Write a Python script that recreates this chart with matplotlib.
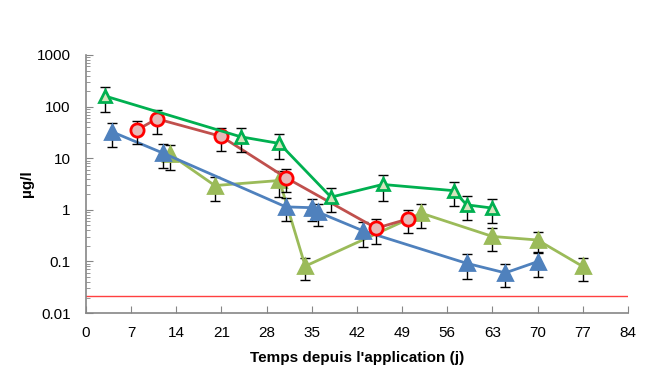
import numpy as np
import matplotlib
matplotlib.use('Agg')
import matplotlib.pyplot as plt
from matplotlib.ticker import FixedLocator, LogLocator, NullFormatter

plt.rcParams['font.family'] = ['Liberation Sans Narrow', 'Liberation Sans', 'DejaVu Sans']

# --- data (days, µg/l, +/- error) ---
green_days = [3, 24, 30, 38, 46, 57, 59, 63]
green_vals = [160, 26, 19.3, 1.76, 3.1, 2.35, 1.25, 1.08]
green_err = [80, 13, 9.7, 0.85, 1.6, 1.17, 0.62, 0.52]

red_days = [8, 11, 21, 31, 45, 50]
red_vals = [35.6, 58, 26.4, 4.2, 0.44, 0.67]
red_err = [17, 28, 12.6, 2.0, 0.22, 0.32]

blue_days = [4, 12, 31, 35, 36, 43, 59, 65, 70]
blue_vals = [32.7, 12.5, 1.14, 1.1, 0.9, 0.39, 0.092, 0.06, 0.099]
blue_err = [16, 6, 0.53, 0.5, 0.42, 0.2, 0.046, 0.028, 0.049]

olive_days = [13, 20, 30, 34, 52, 63, 70, 77]
olive_vals = [12, 2.95, 3.7, 0.081, 0.86, 0.305, 0.26, 0.08]
olive_err = [6, 1.45, 1.9, 0.037, 0.42, 0.145, 0.11, 0.038]

limit_value = 0.021
x_ticks = [0, 7, 14, 21, 28, 35, 42, 49, 56, 63, 70, 77, 84]
y_ticks = [0.01, 0.1, 1, 10, 100, 1000]
y_labels = ['0.01', '0.1', '1', '10', '100', '1000']

fig = plt.figure(figsize=(6.5, 3.74), dpi=100)
ax = fig.add_axes([0.132, 0.163, 0.834, 0.690])


def draw(days, vals, err, color, marker, ms, mfc, mec, z):
    ax.errorbar(days, vals, yerr=err, fmt='none', ecolor='black', elinewidth=1,
                capsize=3.5, capthick=1, zorder=z)
    ax.plot(days, vals, color=color, lw=2, marker=marker, ms=ms, mfc=mfc, mec=mec,
            mew=2, zorder=z + 0.5)


draw(olive_days, olive_vals, olive_err, '#9BBB59', '^', 10, '#9BBB59', '#9BBB59', 2)
draw(blue_days, blue_vals, blue_err, '#4F81BD', '^', 10, '#4F81BD', '#4F81BD', 3)
draw(red_days, red_vals, red_err, '#C0504D', 'o', 9.5, '#E6B9B8', '#FF0000', 4)
draw(green_days, green_vals, green_err, '#00B050', '^', 9, '#D7E4BD', '#00B050', 5)

ax.axhline(limit_value, color='#FF4040', lw=1, zorder=1)

ax.set_yscale('log')
ax.set_xlim(0, 84)
ax.set_ylim(0.01, 1000)
ax.xaxis.set_major_locator(FixedLocator(x_ticks))
ax.set_xticklabels([str(t) for t in x_ticks])
ax.yaxis.set_major_locator(FixedLocator(y_ticks))
ax.set_yticklabels(y_labels)
ax.yaxis.set_minor_locator(LogLocator(base=10, subs=np.arange(2, 10)))
ax.yaxis.set_minor_formatter(NullFormatter())

for s in ['top', 'right']:
    ax.spines[s].set_visible(False)
for s in ['left', 'bottom']:
    ax.spines[s].set_color('#868686')
    ax.spines[s].set_linewidth(1.2)

ax.tick_params(axis='both', which='major', direction='in', length=5, color='#868686',
               labelsize=11)
ax.tick_params(axis='y', which='major', pad=11)
ax.tick_params(axis='x', which='major', pad=9)
ax.tick_params(axis='y', which='minor', direction='in', length=3, color='#868686')

ax.set_xlabel("Temps depuis l'application (j)", fontsize=11, fontweight='bold', labelpad=8)
ax.set_ylabel('µg/l', fontsize=11, fontweight='bold', labelpad=2)

fig.savefig('out.png', dpi=100)
